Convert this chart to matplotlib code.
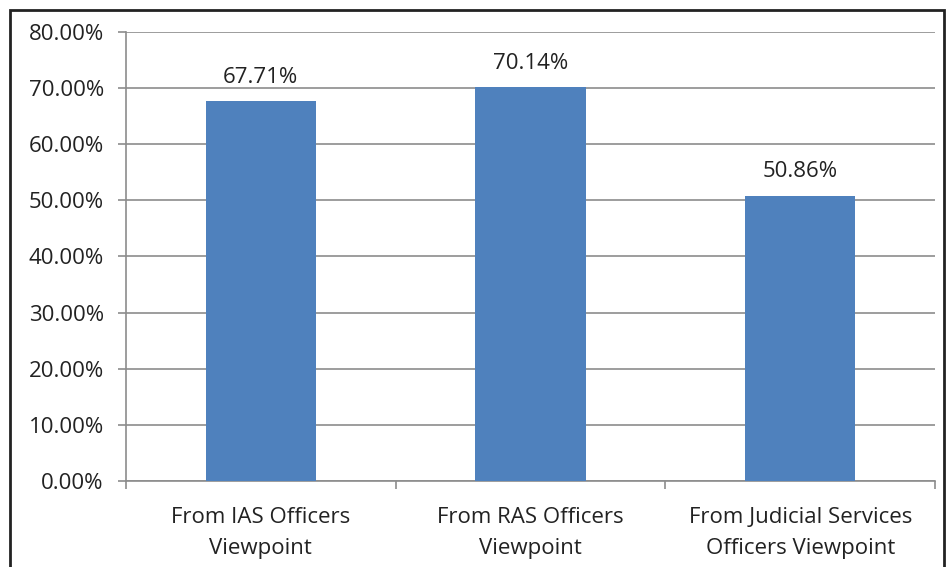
import matplotlib.pyplot as plt
from matplotlib.patches import Rectangle
from matplotlib.ticker import FuncFormatter, MultipleLocator

categories = ["From IAS Officers\nViewpoint", "From RAS Officers\nViewpoint",
              "From Judicial Services\nOfficers Viewpoint"]
values = [67.71, 70.14, 50.86]

plt.rcParams['font.family'] = ['Open Sans', 'DejaVu Sans']

fig = plt.figure(figsize=(9.46, 5.67), dpi=100)
ax = fig.add_axes([0.1332, 0.1517, 0.8552, 0.7919])

x = list(range(len(values)))
ax.bar(x, values, width=0.41, color='#4F81BD', zorder=3)
for xi, v in zip(x, values):
    ax.text(xi, v + 4.2, f"{v:.2f}%", ha='center', va='center', fontsize=16, color='#222222')

ax.set_xlim(-0.5, 2.5)
ax.set_ylim(0, 80)
ax.yaxis.set_major_locator(MultipleLocator(10))
ax.yaxis.set_major_formatter(FuncFormatter(lambda v, p: f"{v:.2f}%"))
ax.grid(axis='y', color='#8c8c8c', linewidth=1.2, zorder=0)

for s in ['top', 'right']:
    ax.spines[s].set_visible(False)
for s in ['left', 'bottom']:
    ax.spines[s].set_color('#8c8c8c')
    ax.spines[s].set_linewidth(1.2)

ax.tick_params(axis='y', length=6, color='#8c8c8c', width=1.2, labelsize=16, labelcolor='#222222', pad=10)
ax.set_xticks([-0.5, 0.5, 1.5, 2.5])
ax.set_xticklabels([])
ax.tick_params(axis='x', length=6, color='#8c8c8c', width=1.2)
ax.set_xticks(x, minor=True)
ax.set_xticklabels(categories, minor=True, fontsize=16, color='#222222', linespacing=1.6)
ax.tick_params(axis='x', which='minor', length=0, pad=19)

fig.patches.append(Rectangle((10 / 946, -0.02), 934 / 946, 1 - 10 / 567 + 0.02,
                             transform=fig.transFigure, fill=False,
                             edgecolor='#222222', linewidth=2))

fig.savefig("out.png", dpi=100)
